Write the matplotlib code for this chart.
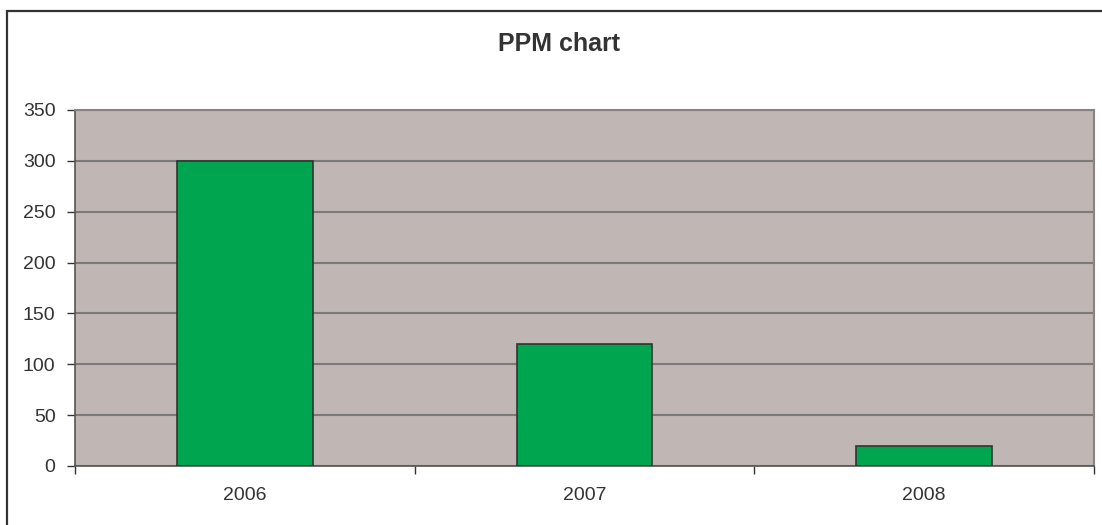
import matplotlib
matplotlib.use("Agg")
import matplotlib.pyplot as plt
from matplotlib.patches import Rectangle

categories = ["2006", "2007", "2008"]
values = [300, 120, 20]
yticks = [0, 50, 100, 150, 200, 250, 300, 350]

plt.rcParams['font.family'] = ['Liberation Sans', 'DejaVu Sans']

W, H = 1102, 525
fig = plt.figure(figsize=(W / 100, H / 100), dpi=100)
ax = fig.add_axes([75 / W, 1 - 466 / H, (1094 - 75) / W, (466 - 110) / H])
ax.set_facecolor('#C0B7B4')

x = list(range(len(categories)))
ax.bar(x, values, width=0.4, color='#00A54F', edgecolor='#333333', linewidth=1.2, zorder=3)

ax.set_xlim(-0.5, len(categories) - 0.5)
ax.set_ylim(0, 350)
ax.set_yticks(yticks)
ax.yaxis.grid(True, color='#7A7A7A', linewidth=1.5, zorder=1)
ax.set_axisbelow(True)

# category boundaries as major ticks, labels on minor ticks
ax.set_xticks([i - 0.5 for i in range(len(categories) + 1)])
ax.set_xticklabels([])
ax.set_xticks(x, minor=True)
ax.set_xticklabels(categories, minor=True)
ax.tick_params(axis='x', which='major', length=6, width=1, color='#333333', direction='out')
ax.tick_params(axis='x', which='minor', length=0, pad=15, labelsize=14, labelcolor='#333333')
ax.tick_params(axis='y', length=6, width=1, color='#333333', direction='out', pad=8,
               labelsize=14, labelcolor='#333333')

for s in ['left', 'bottom']:
    ax.spines[s].set_color('#555555')
    ax.spines[s].set_linewidth(1.2)
for s in ['top', 'right']:
    ax.spines[s].set_color('#8A8282')
    ax.spines[s].set_linewidth(1.5)

fig.text(559 / W, 1 - 44 / H, "PPM chart", ha='center', va='center',
         fontsize=18, fontweight='bold', color='#333333')

# outer chart border (extends beyond right and bottom edges)
border = Rectangle((6.5 / W, -0.1), 1.2, 1.1 - 11 / H, transform=fig.transFigure,
                   fill=False, edgecolor='#333333', linewidth=1.6)
fig.patches.append(border)

fig.savefig("out.png", dpi=100)
